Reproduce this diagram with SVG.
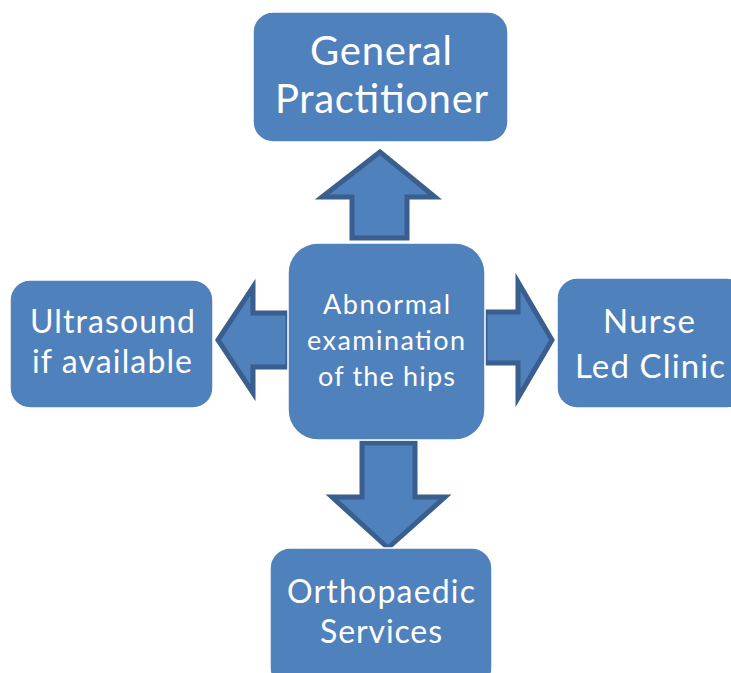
<svg xmlns="http://www.w3.org/2000/svg" width="731" height="673" viewBox="0 0 731 673">
<style>
.box{fill:#4F81BD;stroke:#FFFFFF;stroke-width:1.5}
.arr{fill:#4F81BD;stroke:#3A5F8F;stroke-width:5;stroke-linejoin:miter}
text{font-family:Lato,"Open Sans","Liberation Sans",sans-serif;fill:#FFFFFF;text-anchor:middle}
.big{font-size:40px}
.mid{font-size:32px}
.nur{font-size:33px}
.sm{font-size:27px}
</style>
<rect width="731" height="673" fill="#FFFFFF"/>
<g id="connectors">
<polygon class="arr" points="380,152 435,197 407,197 407,238 352,238 352,197 322,197"/>
<polygon class="arr" points="218,340 253,287 253,313 288,313 288,367 253,367 253,393"/>
<polygon class="arr" points="552,340 518,282 518,312 485,312 485,363 518,363 518,398"/>
<polygon class="arr" points="388,548 445,497 415,497 415,443 362,443 362,497 332,497"/>
</g>
<g id="gp">
<rect class="box" x="253" y="12" width="255" height="130" rx="20"/>
<text class="big" x="381" y="65" textLength="142" lengthAdjust="spacing">General</text>
<text class="big" x="381.5" y="113" textLength="213" lengthAdjust="spacing">Practitioner</text>
</g>
<g id="center">
<rect class="box" x="288" y="243" width="197" height="197" rx="30"/>
<text class="sm" x="386.5" y="314" textLength="127" lengthAdjust="spacing">Abnormal</text>
<text class="sm" x="386" y="350" textLength="158" lengthAdjust="spacing">examination</text>
<text class="sm" x="386.5" y="386" textLength="137" lengthAdjust="spacing">of the hips</text>
</g>
<g id="ultrasound">
<rect class="box" x="10" y="280" width="203" height="128" rx="20"/>
<text class="mid" x="112.5" y="333" textLength="165" lengthAdjust="spacing">Ultrasound</text>
<text class="mid" x="112" y="373" textLength="160" lengthAdjust="spacing">if available</text>
</g>
<g id="nurse">
<rect class="box" x="557" y="278" width="190" height="130" rx="20"/>
<text class="nur" x="649" y="333" textLength="92" lengthAdjust="spacing">Nurse</text>
<text class="nur" x="650" y="378" textLength="150" lengthAdjust="spacing">Led Clinic</text>
</g>
<g id="ortho">
<rect class="box" x="270" y="548" width="222" height="140" rx="20"/>
<text class="mid" x="381" y="603" textLength="188" lengthAdjust="spacing">Orthopaedic</text>
<text class="mid" x="381" y="643" textLength="122" lengthAdjust="spacing">Services</text>
</g>
</svg>
